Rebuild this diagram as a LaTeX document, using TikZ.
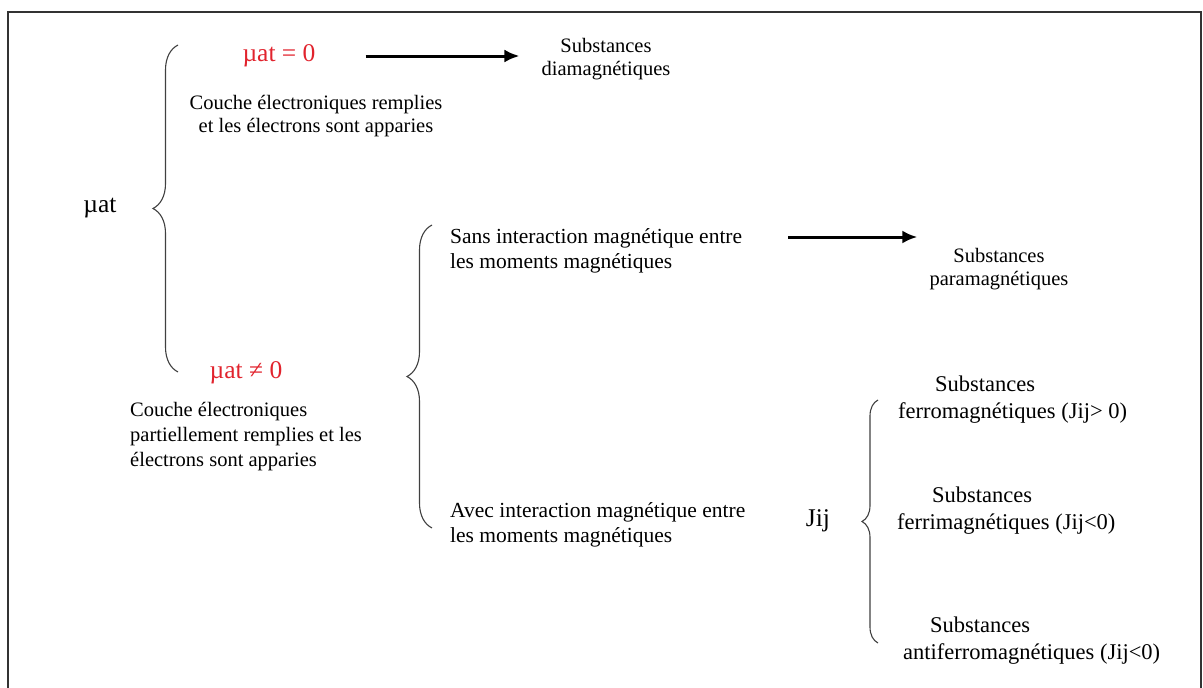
\documentclass[tikz,border=0pt]{standalone}
\usepackage{fontspec}
\setmainfont{Liberation Serif}
\usetikzlibrary{arrows.meta,decorations.pathreplacing,positioning}
\definecolor{mured}{RGB}{225,35,45}

\tikzset{
  smalltxt/.style={inner sep=0pt, font=\fontsize{20.5}{23}\selectfont, align=center},
  midtxt/.style={inner sep=0pt, font=\fontsize{21.5}{24.5}\selectfont, align=left},
  subtxt/.style={inner sep=0pt, font=\fontsize{22.5}{27}\selectfont, align=left},
  mutxt/.style={inner sep=0pt, font=\fontsize{25.5}{28}\selectfont},
  bracket/.style={decorate, decoration={brace, amplitude=#1}, line width=1.1pt, black!75},
  implies/.style={-{Latex[length=15pt,width=13pt]}, line width=3pt},
}

\begin{document}
\begin{tikzpicture}[x=1pt,y=-1pt]
    \useasboundingbox (0,0) rectangle (1203,688);
    \draw[line width=1.3pt, black!80] (8,688) -- (8,12) -- (1201,12) -- (1201,688);

    % first level
    \node[mutxt] (mu) at (100,208) {µat};
    \node[mutxt, text=mured] (mu0) at (279,56) {µat = 0};
    \node[mutxt, text=mured] (mune) at (246,373) {µat ≠ 0};
    \node[smalltxt] (full) at (316,116) {Couche électroniques remplies\\et les électrons sont apparies};
    \node[smalltxt, align=left, font=\fontsize{20.5}{25}\selectfont, anchor=west] (partial) at (130,437)
        {Couche électroniques\\partiellement remplies et les\\électrons sont apparies};
    \node[smalltxt] (dia) at (606,59) {Substances\\diamagnétiques};

    % second level
    \node[midtxt, anchor=west] (sans) at (450,251) {Sans interaction magnétique entre\\les moments magnétiques};
    \node[midtxt, anchor=west] (avec) at (450,525) {Avec interaction magnétique entre\\les moments magnétiques};
    \node[smalltxt] (para) at (999,269) {Substances\\paramagnétiques};

    % third level
    \node[mutxt] (jij) at (818,521) {Jij};
    \node[subtxt, anchor=west] (ferro) at (898,400) {\hspace*{37pt}Substances\\ferromagnétiques (Jij> 0)};
    \node[subtxt, anchor=west] (ferri) at (897,511) {\hspace*{35pt}Substances\\ferrimagnétiques (Jij<0)};
    \node[subtxt, anchor=west] (anti) at (903,641) {\hspace*{27pt}Substances\\antiferromagnétiques (Jij<0)};

    % braces
    \draw[bracket=25pt] (178,372) -- (178,45);
    \draw[bracket=25pt] (432,528) -- (432,225);
    \draw[bracket=16pt] (878,643) -- (878,400);

    % arrows
    \draw[implies, shorten <=50pt, shorten >=22pt] (mu0.east) -- (mu0.east -| dia.west);
    \coordinate (sansline) at ([yshift=14pt]sans.east);
    \draw[implies, shorten <=46pt, shorten >=12pt] (sansline) -- (sansline -| para.west);
\end{tikzpicture}
\end{document}
